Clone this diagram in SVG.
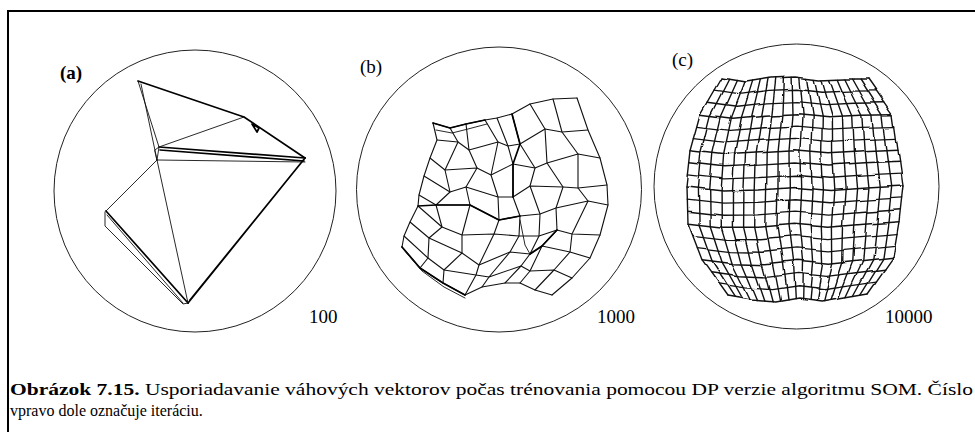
<svg xmlns="http://www.w3.org/2000/svg" width="975" height="432" viewBox="0 0 975 432">
  <style>
    .frame { fill: none; stroke: #000; stroke-width: 2; }
    .ring { fill: none; stroke: #222; stroke-width: 1; }
    .thin { fill: none; stroke: #111; stroke-width: 0.9; stroke-linejoin: round; stroke-linecap: round; }
    .thick { fill: none; stroke: #000; stroke-width: 1.7; stroke-linejoin: round; stroke-linecap: round; }
    .mesh { fill: none; stroke: #111; stroke-width: 1.1; stroke-linejoin: round; stroke-linecap: round; }
    .grid { fill: none; stroke: #111; stroke-width: 1.4; stroke-linejoin: round; stroke-linecap: round; }
    .tag { font-family: "Liberation Serif", "DejaVu Serif", serif; font-size: 19px; fill: #000; }
    .iter { font-family: "Liberation Serif", "DejaVu Serif", serif; font-size: 19px; fill: #000; }
    .cap { font-family: "Liberation Serif", "DejaVu Serif", serif; font-size: 16px; fill: #000; }
  </style>
  <defs>
    <filter id="warp" filterUnits="userSpaceOnUse" x="670" y="60" width="250" height="255" color-interpolation-filters="sRGB">
      <feTurbulence type="fractalNoise" baseFrequency="0.022" numOctaves="1" seed="11" result="noise"/>
      <feDisplacementMap in="SourceGraphic" in2="noise" scale="7" xChannelSelector="R" yChannelSelector="G"/>
    </filter>
  </defs>

  <rect class="frame" x="8" y="11" width="1000" height="500"/>

  <!-- (a) map after 100 iterations -->
  <g id="panel-a">
    <circle class="ring" cx="195" cy="191" r="141"/>
    <text class="tag" x="60" y="79" font-weight="bold">(a)</text>
    <path class="thick" d="M138,81 L244,117 L305,158"/>
    <path class="thick" d="M159,147 L305,158 M160,150 L304,161"/>
    <path class="thin" d="M157,160 L305,162"/>
    <path class="thick" d="M305,158 L188,303 M301,163 L190,300"/>
    <path class="thick" d="M106,211 L188,303"/>
    <path class="thin" d="M107,215 L183,303 M105,212 L105,226 L183,304 L188,303"/>
    <path class="thin" d="M138,81 L159,147 M141,84 L157,160"/>
    <path class="thin" d="M159,147 L244,117"/>
    <path class="thin" d="M157,160 L106,211"/>
    <path class="thin" d="M157,160 L188,303"/>
    <path class="thin" d="M155,150 L159,147 L157,160 Z"/>
    <path class="thick" d="M252,124 L259,128 L257,132 Z"/>
  </g>

  <!-- (b) map after 1000 iterations -->
  <g id="panel-b">
    <circle class="ring" cx="499" cy="189.5" r="142.5"/>
    <text class="tag" x="360" y="73">(b)</text>
    <g class="mesh">
      <!-- rows -->
      <polyline points="433,123 450,128 466,124 485,120 497,118 512,114 530,104 553,99 577,98"/>
      <polyline points="437,140 458,142 469,150 498,142 508,146 520,144 545,129 562,132 588,130"/>
      <polyline points="430,158 445,170 477,168 491,175 513,164 535,168 547,163 578,154 600,158"/>
      <polyline points="424,176 450,192 466,187 498,197 513,197 530,186 563,187 578,188 607,185"/>
      <polyline points="419,195 436,205 470,205 499,220 520,216 540,214 556,208 588,201 608,205"/>
      <polyline points="418,206 442,227 462,235 494,234 519,236 539,236 557,230 572,234 600,235"/>
      <polyline points="410,222 429,238 462,253 479,265 510,252 530,254 542,246 570,252 590,258"/>
      <polyline points="404,236 428,258 444,270 476,275 489,277 521,266 530,271 554,270 572,278"/>
      <polyline points="402,247 420,268 443,283 465,295 482,287 505,283 520,283 535,290 552,295"/>
      <!-- columns -->
      <polyline points="433,123 437,140 430,158 424,176 419,195 418,206 410,222 404,236 402,247"/>
      <polyline points="450,128 458,142 445,170 450,192 436,205 442,227 429,238 428,258 420,268"/>
      <polyline points="466,124 469,150 477,168 466,187 470,205 462,235 462,253 444,270 443,283"/>
      <polyline points="485,120 498,142 491,175 498,197 499,220 494,234 479,265 476,275 465,295"/>
      <polyline points="497,118 508,146 513,164 513,197 520,216 519,236 510,252 489,277 482,287"/>
      <polyline points="512,114 520,144 535,168 530,186 540,214 539,236 530,254 521,266 505,283"/>
      <polyline points="530,104 545,129 547,163 563,187 556,208 557,230 542,246 530,271 520,283"/>
      <polyline points="553,99 562,132 578,154 578,188 588,201 572,234 570,252 554,270 535,290"/>
      <polyline points="577,98 588,130 600,158 607,185 608,205 600,235 590,258 572,278 552,295"/>
    </g>
    <g class="thick">
      <polyline points="418,206 436,205 470,205 499,220 520,216"/>
      <polyline points="512,114 520,144 513,164 513,197"/>
      <polyline points="433,123 450,128 466,124 485,120"/>
      <polyline points="402,247 420,268 443,283 465,295"/>
      <polyline points="530,254 542,246 557,230"/>
    </g>
    <g class="thin">
      <polyline points="436,130 452,133 468,129 487,124"/>
      <polyline points="404,250 422,271 444,287 465,298"/>
      <polyline points="520,220 525,245 530,254"/>
    </g>
  </g>

  <!-- (c) map after 10000 iterations -->
  <g id="panel-c">
    <circle class="ring" cx="796.5" cy="186.5" r="142.5"/>
    <text class="tag" x="672" y="66">(c)</text>
    <g class="grid" filter="url(#warp)">
      <!-- columns -->
      <polyline points="722,78 701,114.3 691,150.7 687,187 688,223.3 702,259.7 728,296"/>
      <polyline points="729.7,79.3 711.1,115.6 701.9,152 698.4,188.3 699.1,224.6 712.1,261 735.4,297.3"/>
      <polyline points="737.4,80.5 721.2,116.8 712.8,153.2 709.7,189.5 710.2,225.8 722.1,262.2 742.7,298.5"/>
      <polyline points="745,81.8 731.3,118.1 723.7,154.5 721.1,190.8 721.3,227.1 732.2,263.5 750.1,299.8"/>
      <polyline points="752.7,80.9 741.4,117.5 734.6,154.1 732.5,190.7 732.4,227.3 742.2,263.9 757.5,300.5"/>
      <polyline points="760.4,79.7 751.6,116.6 745.5,153.5 743.9,190.5 743.6,227.4 752.3,264.3 764.9,301.2"/>
      <polyline points="768.1,78.4 761.7,115.6 756.3,152.9 755.2,190.1 754.7,227.3 762.3,264.6 772.2,301.8"/>
      <polyline points="775.8,77.8 771.8,115 767.2,152.3 766.6,189.5 765.8,226.7 772.4,264 779.6,301.2"/>
      <polyline points="783.4,77.5 781.9,114.6 778.1,151.6 778,188.7 776.9,225.8 782.4,262.8 787,299.9"/>
      <polyline points="791.1,77.2 792,114.1 789,151 789.3,187.9 788,224.8 792.5,261.7 794.3,298.6"/>
      <polyline points="798.8,77.5 802.1,114.3 799.9,151.2 800.7,188 799.1,224.8 802.5,261.7 801.7,298.5"/>
      <polyline points="806.5,78.4 812.2,115.2 810.8,152.1 812.1,188.9 810.2,225.7 812.6,262.6 809.1,299.4"/>
      <polyline points="814.2,79.4 822.3,116.2 821.7,153.1 823.4,189.9 821.3,226.7 822.6,263.6 816.4,300.4"/>
      <polyline points="821.8,79.9 832.4,116.7 832.6,153.5 834.8,190.3 832.4,227 832.7,263.8 823.8,300.6"/>
      <polyline points="829.5,79.6 842.5,116.2 843.5,152.8 846.2,189.4 843.5,226.1 842.7,262.7 831.2,299.3"/>
      <polyline points="837.2,79.3 852.7,115.8 854.4,152.2 857.6,188.7 854.7,225.2 852.8,261.6 838.6,298.1"/>
      <polyline points="844.9,79 862.8,115.3 865.2,151.6 868.9,187.9 865.8,224.2 862.8,260.5 845.9,296.8"/>
      <polyline points="852.6,79 872.9,115.1 876.1,151.2 880.3,187.3 876.9,223.3 872.9,259.4 853.3,295.5"/>
      <polyline points="860.2,79 883,114.9 887,150.8 891.7,186.6 888,222.5 882.9,258.4 860.6,294.3"/>
      <polyline points="868,79 893,114.7 898,150.3 903,186 899,221.7 893,257.3 868,293"/>
      <!-- rows -->
      <polyline points="722,78 746.3,82 770.7,78 795,77 819.3,80 843.7,79 868,79"/>
      <polyline points="715,90.1 741.9,94.1 768.8,90.4 795.6,89.3 822.5,92.3 849.4,91.1 876.3,90.9"/>
      <polyline points="708,102.2 737.5,106.2 766.9,102.9 796.4,101.6 825.8,104.6 855.3,103.2 884.7,102.8"/>
      <polyline points="701,114.3 733,118.3 765,115.3 797,113.8 829,116.8 861,115.3 893,114.7"/>
      <polyline points="697.7,126.4 730.5,130.4 763.4,127.8 796.2,126.1 829,129.1 861.9,127.4 894.7,126.6"/>
      <polyline points="694.3,138.6 728,142.6 761.6,140.2 795.3,138.4 829,141.4 862.6,139.6 896.3,138.4"/>
      <polyline points="691,150.7 725.5,154.7 760,152.7 794.5,150.7 829,153.7 863.5,151.7 898,150.3"/>
      <polyline points="689.7,162.8 724.7,166.8 759.7,165.1 794.7,163 829.7,166 864.7,163.8 899.7,162.2"/>
      <polyline points="688.3,174.9 723.8,178.9 759.3,177.6 794.8,175.2 830.3,178.2 865.8,175.9 901.3,174.1"/>
      <polyline points="687,187 723,191 759,190 795,187.5 831,190.5 867,188 903,186"/>
      <polyline points="687.3,199.1 723,203.1 758.7,202.4 794.5,199.8 830.2,202.8 865.9,200.1 901.6,197.9"/>
      <polyline points="687.7,211.2 723.2,215.2 758.6,214.9 794.1,212.1 829.5,215.1 865,212.2 900.4,209.8"/>
      <polyline points="688,223.3 723.2,227.3 758.3,227.3 793.5,224.3 828.7,227.3 863.8,224.3 899,221.7"/>
      <polyline points="692.7,235.4 726.7,239.4 760.8,239.8 794.8,236.6 828.9,239.6 862.9,236.4 897,233.6"/>
      <polyline points="697.3,247.6 730.3,251.6 763.2,252.2 796.2,248.9 829.2,251.9 862.1,248.6 895,245.4"/>
      <polyline points="702,259.7 733.8,263.7 765.7,264.7 797.5,261.2 829.3,264.2 861.2,260.7 893,257.3"/>
      <polyline points="710.7,271.8 739.7,275.8 768.7,277.1 797.7,273.4 826.7,276.4 855.7,272.8 884.7,269.2"/>
      <polyline points="719.3,283.9 745.5,287.9 771.6,289.6 797.8,285.7 824,288.7 850.2,284.9 876.3,281.1"/>
      <polyline points="728,296 751.3,300 774.7,302 798,298 821.3,301 844.7,297 868,293"/>
    </g>
  </g>

  <!-- iteration counts -->
  <g id="counts">
    <text class="iter" x="309" y="323">100</text>
    <text class="iter" x="597" y="323">1000</text>
    <text class="iter" x="885" y="323">10000</text>
  </g>

  <!-- caption: first line stretched across the frame width -->
  <g id="caption">
    <text class="cap" x="10" y="395" textLength="963" lengthAdjust="spacingAndGlyphs"><tspan font-weight="bold">Obrázok 7.15.</tspan> Usporiadavanie váhových vektorov počas trénovania pomocou DP verzie algoritmu SOM. Číslo</text>
    <text class="cap" x="10" y="416" font-size="15.5">vpravo dole označuje iteráciu.</text>
  </g>
</svg>
